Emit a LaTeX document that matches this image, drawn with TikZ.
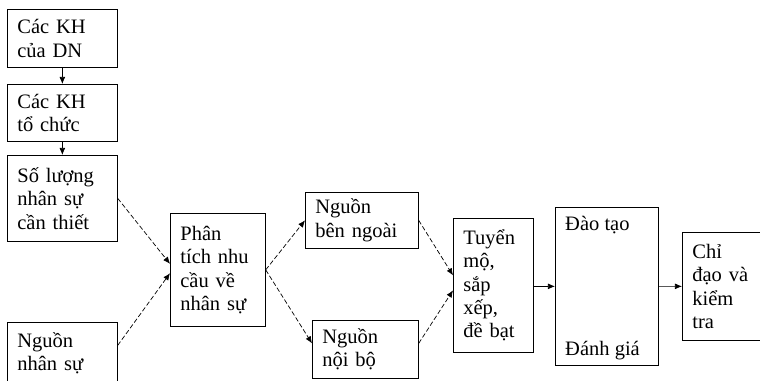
\documentclass[tikz,border=0pt]{standalone}
\usepackage{fontspec}
\setmainfont{Liberation Serif}
\usetikzlibrary{arrows.meta,calc}
\begin{document}
\begin{tikzpicture}[x=0.03cm,y=-0.03cm,
  font=\fontsize{17.5}{20}\selectfont,
  box/.style={draw, line width=0.6pt, anchor=north west, align=left,
    inner xsep=0.3cm, inner ysep=0pt},
  label text/.style={anchor=west, inner sep=0pt},
  conn/.style={line width=0.6pt, -{Latex[length=6pt,width=5pt]}},
  dconn/.style={conn, dash pattern=on 4pt off 2pt}]
\useasboundingbox (0,0) rectangle (760,380);
\clip (0,0) rectangle (760,380);

% left column: plans and staffing needs
\node[box, text width=2.7cm, minimum height=1.74cm] (b1) at (7,9) {Các KH\\của DN};
\node[box, text width=2.7cm, minimum height=1.71cm] (b2) at (7,84) {Các KH\\tổ chức};
\node[box, text width=2.7cm, minimum height=2.58cm] (b3) at (7,155) {Số lượng\\nhân sự\\cần thiết};
\node[box, text width=2.7cm, minimum height=1.86cm] (b4) at (7,322) {Nguồn\\nhân sự};

% analysis and sources
\node[box, text width=2.25cm, minimum height=3.39cm] (b5) at (170,213) {Phân\\tích nhu\\cầu về\\nhân sự};
\node[box, text width=2.79cm, minimum height=1.68cm] (b6) at (305,192) {Nguồn\\bên ngoài};
\node[box, text width=2.58cm, minimum height=1.74cm] (b7) at (312,320) {Nguồn\\nội bộ};

% recruitment, training, control
\node[box, text width=1.8cm, minimum height=4.02cm] (b8) at (453,218) {Tuyển\\mộ,\\sắp\\xếp,\\đề bạt};
\node[draw, line width=0.6pt, anchor=north west, inner sep=0pt,
  minimum width=3.09cm, minimum height=4.74cm] (b9) at (555,207) {};
\node[label text] (t1) at ($(b9.north west)+(10,18)$) {Đào tạo};
\node[label text] (t2) at ($(b9.south west)+(10,-15)$) {Đánh giá};
\node[box, text width=1.95cm, minimum height=3.24cm] (b10) at (682,232) {Chỉ\\đạo và\\kiểm\\tra};

% connectors
\draw[conn] (b1) -- (b2);
\draw[conn] (b2) -- (b3);
\draw[dconn] (b3.east) -- ([yshift=0.18cm]b5.west);
\draw[dconn] ([yshift=0.24cm]b4.east) -- ([yshift=-0.1cm]b5.west);
\draw[dconn] (b5.east) -- (b6.west);
\draw[dconn] (b5.east) -- ([yshift=0.18cm]b7.west);
\draw[dconn] (b6.east) -- ([yshift=0.3cm]b8.west);
\draw[dconn] ([yshift=0.18cm]b7.east) -- ([yshift=-0.15cm]b8.west);
\draw[conn] ([yshift=0.39cm]b8.east) |- (b9.west);
\draw[conn] (b9.east) -- (b10.west);
\end{tikzpicture}
\end{document}
